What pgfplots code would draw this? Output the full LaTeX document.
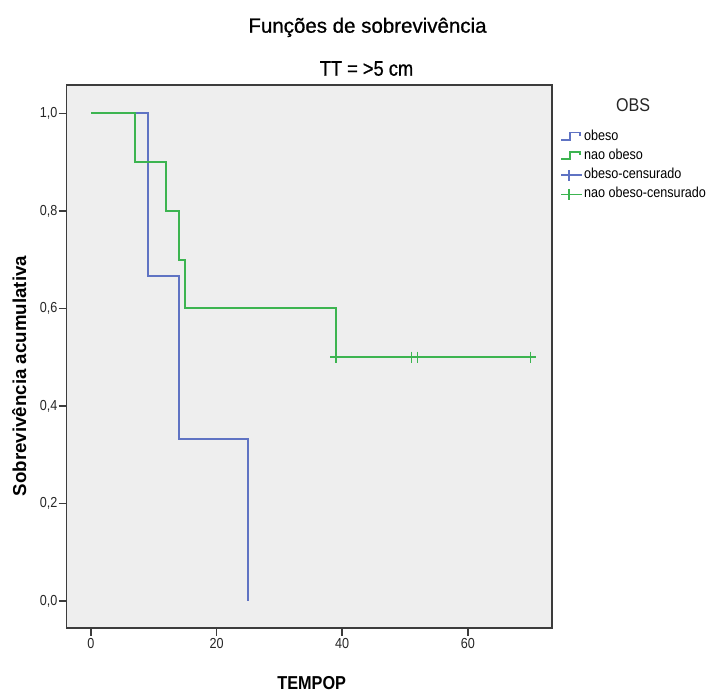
\documentclass[border=0pt]{standalone}
\usepackage{pgfplots}
\pgfplotsset{compat=1.18}
\usepackage{fontspec}
\setmainfont{Liberation Sans}
\newfontfamily\narrow[FakeStretch=0.87]{Liberation Sans}
\newfontfamily\titlefont[FakeBold=0.8]{Liberation Sans}
\newfontfamily\subfont[FakeStretch=0.87, FakeBold=0.8]{Liberation Sans}
\definecolor{kmblue}{RGB}{95,115,195}
\definecolor{kmgreen}{RGB}{60,180,80}
\definecolor{bgray}{RGB}{238,238,238}
\definecolor{bord}{RGB}{60,60,60}
\pgfplotsset{
 kmstep/.style={legend image code/.code={\draw[##1] (0pt,-3.5pt) -- (9pt,-3.5pt) -- (9pt,4pt) -- (19pt,4pt) -- (19pt,0.5pt);}},
 kmcens/.style={legend image code/.code={\draw[##1] (0pt,0pt) -- (21pt,0pt); \draw[##1] (8pt,-5.5pt) -- (8pt,5.5pt);}},
}
\begin{document}
\begin{tikzpicture}
\useasboundingbox (-66.7pt,-65pt) rectangle (645.3pt,628pt);
\begin{axis}[
  at={(0,0)}, anchor=south west,
  scale only axis, width=485.3pt, height=543pt,
  xmin=-3.87, xmax=73.4, ymin=-0.055, ymax=1.058,
  axis background/.style={fill=bgray},
  axis line style={draw=bord, line width=1.5pt},
  xtick={0,20,40,60}, ytick={0,0.2,0.4,0.6,0.8,1.0},
  xtick pos=lower, ytick pos=left,
  tick align=outside, major tick length=8pt,
  tick style={draw=bord, line width=1.5pt},
  /pgf/number format/assume math mode=true,
  tick label style={font=\narrow\fontsize{14.5}{14.5}\selectfont, text=black!85},
  yticklabel style={/pgf/number format/.cd, fixed, fixed zerofill, precision=1, use comma, /tikz/.cd, inner sep=1pt},
  xticklabel style={inner sep=2pt},
  legend cell align=left,
  legend style={draw=none, fill=none, at={(1.0165,0.921)}, anchor=north west, inner sep=0pt,
    font=\narrow\fontsize{14.5}{14.5}\selectfont, row sep=2.3pt,
    nodes={inner sep=1pt, text height=11pt, text depth=4pt}},
]
\addplot[const plot, color=kmblue, line width=2pt, forget plot] coordinates {
 (0,1) (9,0.6667) (14,0.3333) (25,0)
};
\addplot[const plot, color=kmgreen, line width=2pt, forget plot] coordinates {
 (0,1) (7,0.9) (12,0.8) (14,0.7) (15,0.6) (39,0.5) (70,0.5)
};
\addplot[only marks, mark=+, mark size=5.5pt, color=kmgreen, line width=1.6pt, forget plot] coordinates {
 (39,0.5) (51,0.5) (52,0.5) (70,0.5)
};
\addlegendimage{kmstep, color=kmblue, line width=1.8pt}
\addlegendentry{obeso}
\addlegendimage{kmstep, color=kmgreen, line width=1.8pt}
\addlegendentry{nao obeso}
\addlegendimage{kmcens, color=kmblue, line width=1.8pt}
\addlegendentry{obeso-censurado}
\addlegendimage{kmcens, color=kmgreen, line width=1.8pt}
\addlegendentry{nao obeso-censurado}
\end{axis}
\node[anchor=base, font=\titlefont\fontsize{20.5}{20.5}\selectfont] at (300.8pt,595.3pt) {Funções de sobrevivência};
\node[anchor=base, font=\subfont\fontsize{21}{21}\selectfont] at (299.8pt,552.3pt) {TT = >5 cm};
\node[anchor=base, font=\narrow\fontsize{18.5}{18.5}\selectfont, text=black!85] at (566.3pt,516.3pt) {OBS};
\node[anchor=base, font=\bfseries\fontsize{18.7}{18.7}\selectfont] at (245pt,-61.3pt) {\narrow\bfseries TEMPOP};
\node[anchor=base, rotate=90, font=\bfseries\fontsize{18.7}{18.7}\selectfont] at (-40.7pt,252pt) {Sobrevivência acumulativa};
\end{tikzpicture}
\end{document}
